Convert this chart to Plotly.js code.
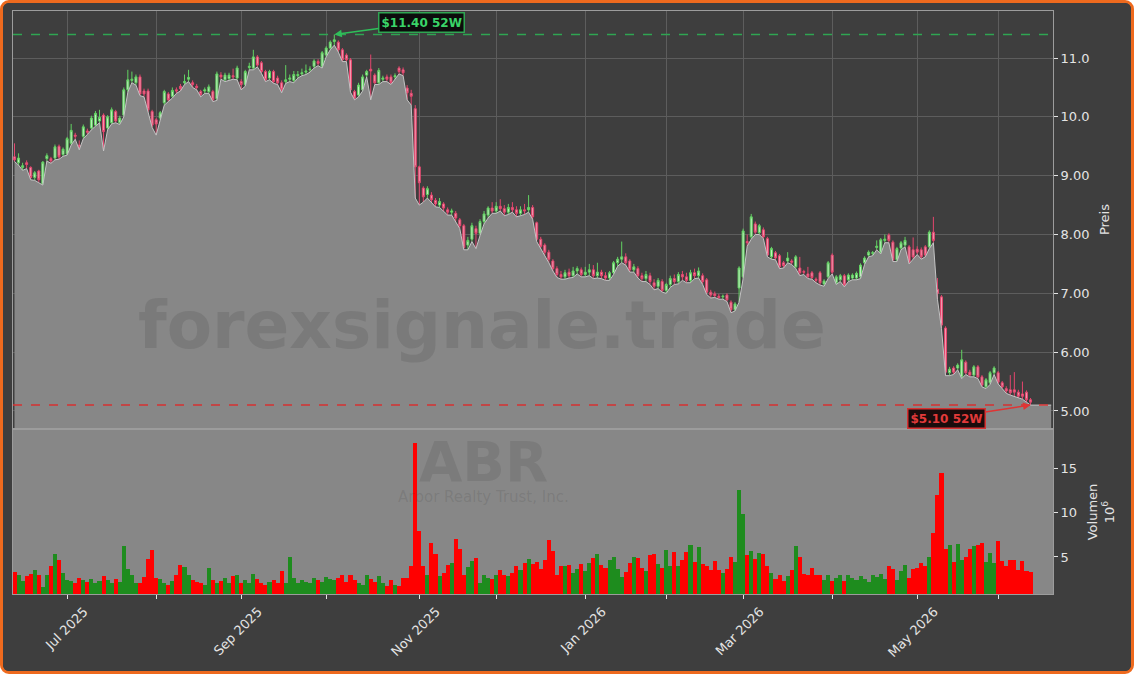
<!DOCTYPE html>
<html><head><meta charset="utf-8">
<script src="https://cdn.plot.ly/plotly-3.0.1.min.js"></script>
<style>
html,body{margin:0;padding:0;background:#ffffff;}
#frame{position:absolute;left:0;top:0;width:1134px;height:674px;box-sizing:border-box;border:3px solid #ee6a1e;border-radius:9px;background:#3e3e3e;overflow:hidden;}
#chart{width:1128px;height:668px;}
</style></head>
<body><div id="frame"><div id="chart"></div></div>
<script>
// ---------- calendar ----------
const startDate = '2025-06-11';
const endDate = '2026-06-11';
const holidays = ['2025-06-19','2025-07-04','2025-09-01','2025-11-27','2025-12-25','2026-01-01','2026-01-19','2026-02-16','2026-04-03','2026-05-25'];
const monthNames = ['Jan','Feb','Mar','Apr','May','Jun','Jul','Aug','Sep','Oct','Nov','Dec'];
const labelMonths = [0,2,4,6,8,10];

// ---------- price data (OHLC) ----------
const open = [9.32,9.22,9.14,9.22,9.14,8.97,9.08,8.86,9.29,9.29,9.30,9.50,9.36,9.37,9.55,9.69,9.52,9.67,9.76,9.81,
9.86,9.93,10.03,9.81,9.90,10.09,9.90,10.03,10.46,10.62,10.58,10.68,10.44,10.44,10.09,9.95,9.98,10.24,10.39,10.35,
10.46,10.52,10.58,10.64,10.58,10.52,10.43,10.44,10.43,10.43,10.31,10.71,10.63,10.65,10.70,10.66,10.60,10.55,10.84,10.83,
11.02,10.92,10.77,10.66,10.77,10.66,10.58,10.60,10.64,10.62,10.70,10.73,10.76,10.80,10.86,10.94,10.86,11.05,11.17,11.28,
11.27,11.14,11.05,10.97,10.43,10.37,10.46,10.71,10.81,10.71,10.58,10.64,10.68,10.68,10.68,10.83,10.80,10.49,10.40,10.14,
9.15,8.79,8.68,8.67,8.58,8.50,8.52,8.42,8.38,8.36,8.25,8.15,7.82,7.92,8.10,8.02,8.22,8.33,8.45,8.40,
8.48,8.44,8.38,8.46,8.42,8.36,8.42,8.42,8.46,8.20,7.92,7.82,7.70,7.55,7.42,7.32,7.28,7.36,7.30,7.38,
7.40,7.32,7.36,7.40,7.30,7.36,7.30,7.26,7.35,7.52,7.58,7.62,7.55,7.40,7.42,7.30,7.25,7.30,7.18,7.12,
7.20,7.05,7.15,7.25,7.20,7.32,7.28,7.22,7.35,7.30,7.30,7.23,7.02,6.99,6.95,6.94,6.97,6.85,6.72,7.09,
7.28,7.88,7.96,8.18,8.03,8.08,7.93,7.62,7.69,7.64,7.52,7.55,7.55,7.45,7.43,7.37,7.33,7.35,7.24,7.35,
7.16,7.28,7.65,7.18,7.23,7.30,7.23,7.26,7.26,7.28,7.52,7.65,7.68,7.78,7.70,7.90,7.99,7.87,7.57,7.77,
7.82,7.79,7.74,7.75,7.74,7.79,7.79,8.04,7.07,6.94,6.41,5.65,5.73,5.73,5.58,5.83,5.66,5.61,5.75,5.58,
5.41,5.48,5.65,5.65,5.48,5.38,5.36,5.36,5.32,5.29,5.32,5.19];
const high = [9.55,9.38,9.22,9.26,9.16,9.08,9.10,9.25,9.38,9.32,9.53,9.53,9.48,9.66,9.88,9.73,9.60,9.87,9.80,10.02,
10.10,10.12,10.06,10.03,10.16,10.12,10.02,10.50,10.80,10.77,10.72,10.72,10.48,10.48,10.12,9.98,10.10,10.46,10.42,10.50,
10.50,10.56,10.72,10.80,10.62,10.56,10.46,10.50,10.55,10.46,10.77,10.76,10.75,10.75,10.82,10.87,10.64,10.80,10.92,11.14,
11.05,10.95,10.80,10.80,10.80,10.70,10.62,10.88,10.72,10.78,10.78,10.82,10.89,10.86,10.98,10.98,11.12,11.20,11.30,11.40,
11.30,11.17,11.08,11.00,10.46,10.58,10.72,10.80,11.06,10.74,10.83,10.70,10.72,10.72,10.74,10.86,10.84,10.54,10.46,10.20,
9.17,8.82,8.82,8.72,8.62,8.62,8.55,8.46,8.44,8.40,8.28,8.18,7.96,8.20,8.15,8.26,8.40,8.48,8.55,8.55,
8.60,8.50,8.52,8.55,8.48,8.48,8.52,8.67,8.50,8.22,7.96,7.85,7.74,7.58,7.46,7.38,7.40,7.42,7.45,7.46,
7.44,7.45,7.50,7.48,7.52,7.40,7.36,7.38,7.55,7.62,7.88,7.68,7.58,7.50,7.46,7.35,7.38,7.35,7.24,7.26,
7.24,7.18,7.30,7.32,7.36,7.38,7.35,7.40,7.42,7.44,7.34,7.26,7.06,7.03,6.99,6.98,7.00,6.88,6.85,7.46,
8.10,8.00,8.35,8.22,8.18,8.12,7.96,7.79,7.72,7.67,7.55,7.70,7.58,7.65,7.62,7.40,7.45,7.38,7.27,7.38,
7.24,7.55,7.68,7.31,7.33,7.33,7.34,7.34,7.37,7.51,7.63,7.73,7.72,7.90,7.94,8.00,8.02,7.90,7.79,7.89,
7.96,7.82,7.95,7.80,7.78,7.82,8.07,8.30,7.26,6.97,6.44,5.75,5.76,5.81,6.04,5.86,5.70,5.78,5.78,5.61,
5.56,5.68,5.76,5.68,5.51,5.42,5.61,5.66,5.36,5.50,5.35,5.22];
const low = [9.24,9.18,9.09,9.12,8.93,8.92,8.88,8.84,9.25,9.21,9.27,9.28,9.33,9.35,9.52,9.62,9.44,9.63,9.70,9.78,
9.84,9.90,9.42,9.78,9.88,9.90,9.87,10.00,10.42,10.58,10.54,10.36,10.34,10.08,9.82,9.69,9.95,10.20,10.26,10.32,
10.40,10.44,10.55,10.60,10.50,10.46,10.34,10.40,10.40,10.26,10.28,10.64,10.60,10.62,10.64,10.63,10.46,10.52,10.80,10.80,
10.85,10.74,10.60,10.63,10.57,10.55,10.41,10.57,10.60,10.58,10.66,10.70,10.72,10.76,10.83,10.87,10.83,11.02,11.14,11.22,
11.10,10.94,10.94,10.42,10.29,10.34,10.44,10.68,10.29,10.55,10.55,10.60,10.60,10.55,10.64,10.73,10.70,10.29,10.20,8.62,
8.50,8.55,8.62,8.55,8.47,8.46,8.40,8.33,8.33,8.22,8.10,7.74,7.74,7.88,7.76,7.98,8.18,8.28,8.36,8.36,
8.40,8.32,8.34,8.38,8.30,8.32,8.34,8.38,8.26,7.88,7.76,7.65,7.52,7.38,7.27,7.24,7.24,7.26,7.27,7.33,
7.28,7.28,7.30,7.25,7.26,7.25,7.22,7.22,7.32,7.46,7.52,7.48,7.36,7.36,7.26,7.20,7.20,7.15,7.06,7.08,
7.02,7.00,7.10,7.15,7.16,7.22,7.18,7.18,7.25,7.26,7.15,6.98,6.92,6.93,6.90,6.90,6.86,6.67,6.70,6.85,
7.25,7.80,7.92,8.00,8.00,7.93,7.62,7.58,7.57,7.42,7.43,7.52,7.49,7.42,7.30,7.32,7.25,7.24,7.18,7.14,
7.12,7.25,7.33,7.15,7.20,7.11,7.20,7.23,7.23,7.25,7.49,7.62,7.64,7.74,7.67,7.86,7.86,7.54,7.54,7.74,
7.79,7.50,7.58,7.66,7.58,7.62,7.76,7.86,6.90,6.40,5.60,5.60,5.62,5.70,5.55,5.62,5.58,5.58,5.55,5.41,
5.38,5.45,5.62,5.46,5.38,5.30,5.27,5.25,5.22,5.20,5.15,5.10];
const close = [9.27,9.30,9.17,9.19,8.97,9.05,8.93,9.23,9.34,9.25,9.49,9.32,9.45,9.63,9.77,9.67,9.48,9.83,9.74,9.98,
10.06,9.99,9.75,10.00,10.12,9.93,9.98,10.46,10.63,10.64,10.68,10.39,10.39,10.12,9.86,9.88,10.07,10.43,10.29,10.45,
10.44,10.48,10.60,10.67,10.55,10.50,10.38,10.46,10.51,10.29,10.73,10.68,10.71,10.71,10.68,10.83,10.55,10.77,10.86,11.02,
10.88,10.77,10.63,10.77,10.60,10.58,10.46,10.63,10.66,10.72,10.72,10.75,10.78,10.81,10.95,10.91,11.09,11.17,11.27,11.31,
11.14,10.97,10.97,10.46,10.32,10.54,10.68,10.77,10.78,10.58,10.79,10.66,10.64,10.58,10.70,10.77,10.75,10.41,10.35,9.15,
8.88,8.64,8.78,8.59,8.52,8.56,8.45,8.38,8.40,8.28,8.15,7.78,7.90,8.15,8.02,8.22,8.35,8.45,8.40,8.48,
8.44,8.38,8.46,8.42,8.36,8.42,8.40,8.46,8.30,7.92,7.80,7.70,7.58,7.42,7.32,7.28,7.35,7.30,7.38,7.42,
7.32,7.36,7.40,7.30,7.36,7.30,7.26,7.35,7.52,7.58,7.62,7.52,7.40,7.45,7.30,7.25,7.32,7.20,7.12,7.22,
7.05,7.15,7.25,7.20,7.32,7.28,7.22,7.35,7.30,7.38,7.20,7.02,6.97,6.96,6.93,6.95,6.89,6.72,6.82,7.43,
8.06,7.86,8.30,8.04,8.15,7.96,7.65,7.76,7.60,7.45,7.47,7.60,7.53,7.62,7.35,7.36,7.28,7.27,7.22,7.18,
7.21,7.52,7.36,7.28,7.30,7.14,7.31,7.31,7.34,7.48,7.60,7.70,7.69,7.80,7.91,7.92,7.90,7.57,7.76,7.86,
7.90,7.53,7.62,7.70,7.62,7.65,8.04,7.90,7.00,6.46,5.66,5.71,5.66,5.78,5.87,5.65,5.61,5.75,5.58,5.44,
5.53,5.65,5.73,5.49,5.41,5.34,5.31,5.32,5.25,5.25,5.19,5.15];
// volume in millions
const volume = [3.3,2.9,2.3,2.8,3.1,3.5,2.9,1.6,3.0,4.0,5.3,4.7,3.2,2.4,2.3,2.0,2.6,2.4,2.2,2.5,
2.1,2.3,2.8,2.4,2.0,2.5,2.2,6.3,3.6,3.0,2.1,2.0,2.7,4.8,5.8,2.6,2.5,2.0,1.8,2.3,
3.0,4.1,3.9,2.9,2.4,2.2,2.0,1.8,3.8,2.4,2.1,2.3,2.6,2.0,2.8,3.0,2.0,2.4,2.1,3.1,
2.5,2.0,1.8,2.2,2.4,2.0,3.4,2.1,5.0,2.6,2.1,2.4,2.2,2.0,2.6,2.4,2.2,2.7,2.5,2.4,
2.6,3.0,2.2,2.9,2.4,2.0,1.8,3.0,2.5,2.2,2.8,2.0,1.7,2.4,1.8,1.7,2.6,2.6,4.0,17.9,
7.9,4.0,3.0,6.6,5.3,2.8,3.2,4.1,4.3,7.0,5.9,3.0,3.9,4.5,4.9,2.1,3.0,2.6,2.5,3.0,
3.5,3.0,2.8,3.2,4.0,3.5,4.3,4.8,4.2,4.4,3.6,4.6,6.9,5.7,3.0,4.0,4.0,4.1,3.2,3.6,
4.2,3.4,4.3,4.9,5.3,4.1,3.8,4.6,5.0,3.6,2.7,3.3,4.3,5.0,4.9,3.7,3.4,5.2,5.3,4.2,
3.8,5.8,4.0,5.6,4.0,4.6,5.6,6.4,4.4,6.1,4.2,4.0,3.5,4.5,3.5,3.2,3.6,5.0,4.4,12.6,
9.9,5.2,5.7,4.8,5.4,5.3,4.0,3.2,2.5,2.9,2.3,2.8,3.5,6.3,5.0,3.1,2.9,3.7,2.9,3.0,
2.4,3.0,2.3,2.6,2.9,2.3,2.9,2.6,2.4,2.8,2.5,2.2,2.9,2.7,3.1,2.5,4.0,3.6,2.4,3.4,
4.1,2.6,3.6,3.8,4.3,4.0,5.0,7.7,12.0,14.5,5.9,6.4,4.4,6.5,4.6,5.0,5.9,6.2,6.4,6.6,
4.4,5.4,4.3,6.8,4.5,4.0,4.6,4.7,3.5,4.5,3.4,3.3];

// ---------- axis ticks ----------
const priceTicks = [5,6,7,8,9,10,11];
const priceTickText = ['5.00','6.00','7.00','8.00','9.00','10.0','11.0'];
const volTicks = [5,10,15];

// ---------- build trading calendar ----------
function iso(d){return d.toISOString().slice(0,10);}
const dates = [];
for (let d = new Date(startDate+'T00:00:00Z'); iso(d) <= endDate; d.setUTCDate(d.getUTCDate()+1)) {
  const wd = d.getUTCDay();
  if (wd === 0 || wd === 6) continue;
  if (holidays.includes(iso(d))) continue;
  dates.push(iso(d));
}
const n = close.length;
const idx = close.map((_, i) => i);
const tickvals = [], ticktext = [];
for (let i = 1; i < dates.length && i < n; i++) {
  if (dates[i].slice(5,7) !== dates[i-1].slice(5,7)) {
    const m = parseInt(dates[i].slice(5,7),10) - 1;
    tickvals.push(i);
    ticktext.push(labelMonths.includes(m) ? monthNames[m] + ' ' + dates[i].slice(0,4) : '');
  }
}
const xRange = [-0.37, n - 1 + 5.55];
const fillExt = n - 1 + 5.1;

// 52-week extremes
let hiI = 0, loI = 0;
for (let i = 0; i < n; i++) { if (high[i] > high[hiI]) hiI = i; if (low[i] < low[loI]) loI = i; }
const hiV = high[hiI], loV = low[loI];

const volColors = idx.map(i => close[i] >= open[i] ? '#1e8c1e' : '#ff0000');

const traces = [
  {type:'scatter', mode:'lines', x: idx.concat([fillExt]), y: low.concat([low[n-1]]),
   fill:'tozeroy', fillcolor:'#878787', line:{color:'#c4c4c4', width:1}, hoverinfo:'skip', xaxis:'x', yaxis:'y'},
  {type:'candlestick', x: idx, open: open, high: high, low: low, close: close, xaxis:'x', yaxis:'y',
   increasing:{line:{color:'#62d262', width:1}, fillcolor:'#c6efc6'},
   decreasing:{line:{color:'#e4466e', width:1}, fillcolor:'#f49ab0'},
   whiskerwidth:0, hoverinfo:'skip'},
  {type:'bar', x: idx, y: volume, marker:{color: volColors, line:{width:0}}, xaxis:'x2', yaxis:'y2', hoverinfo:'skip'}
];

const axisFont = {family:'DejaVu Sans, sans-serif', size:13, color:'#e4e4e4'};
const layout = {
  width:1128, height:668,
  paper_bgcolor:'#3e3e3e', plot_bgcolor:'#3e3e3e',
  margin:{l:10, r:78, t:8, b:77},
  showlegend:false, bargap:0,
  font: axisFont,
  xaxis:{domain:[0,1], range:xRange, anchor:'y', tickvals:tickvals, showticklabels:false, ticks:'',
         showgrid:true, gridcolor:'#5d5d5d', gridwidth:1, zeroline:false, showline:true, mirror:true,
         linecolor:'#9c9c9c', linewidth:1, rangeslider:{visible:false}},
  yaxis:{domain:[0.2847,1], range:[4.71,11.8], side:'right', anchor:'x', tickvals:priceTicks, ticktext:priceTickText,
         ticks:'outside', ticklen:4, tickcolor:'#e4e4e4', showgrid:true, gridcolor:'#5d5d5d', zeroline:false,
         showline:true, mirror:true, linecolor:'#9c9c9c', title:{text:'Preis', font:axisFont, standoff:11}},
  xaxis2:{domain:[0,1], range:xRange, anchor:'y2', tickvals:tickvals, ticktext:ticktext, tickangle:-45,
          ticklabelshift:17, ticks:'outside', ticklen:4, tickcolor:'#e4e4e4', showgrid:false, zeroline:false,
          showline:true, mirror:true, linecolor:'#9c9c9c', tickfont:axisFont},
  yaxis2:{domain:[0,0.2813], range:[0.8,19.4], side:'right', anchor:'x2', tickvals:volTicks,
          ticks:'outside', ticklen:4, tickcolor:'#e4e4e4', showgrid:false, zeroline:false, showline:true, mirror:true,
          linecolor:'#9c9c9c', title:{text:'Volumen<br>10<sup>6</sup>', font:axisFont, standoff:11}},
  shapes:[
    {type:'rect', xref:'x2 domain', yref:'y2 domain', x0:0, x1:1, y0:0, y1:1, fillcolor:'#878787', line:{width:0}, layer:'below'},
    {type:'line', xref:'x domain', yref:'y', x0:0, x1:1, y0:hiV, y1:hiV, line:{color:'#2fa552', width:1.5, dash:'dash'}},
    {type:'line', xref:'x domain', yref:'y', x0:0, x1:1, y0:loV, y1:loV, line:{color:'#d63232', width:1.5, dash:'dash'}}
  ],
  annotations:[
    {xref:'paper', yref:'paper', x:0.451, y:0.4614, xanchor:'center', yanchor:'middle', text:'<b>forexsignale.trade</b>', showarrow:false,
     font:{family:'DejaVu Sans, sans-serif', size:66, color:'rgba(40,40,40,0.13)'}},
    {xref:'paper', yref:'paper', x:0.452, y:0.228, xanchor:'center', yanchor:'middle', text:'<b>ABR</b>', showarrow:false,
     font:{family:'DejaVu Sans, sans-serif', size:56, color:'rgba(50,50,50,0.13)'}},
    {xref:'paper', yref:'paper', x:0.452, y:0.166, xanchor:'center', yanchor:'middle', text:'Arbor Realty Trust, Inc.', showarrow:false,
     font:{family:'DejaVu Sans, sans-serif', size:15, color:'rgba(50,50,50,0.15)'}},
    {xref:'x', yref:'y', x:hiI, y:hiV, ax:87, ay:-12, text:'<b>$' + hiV.toFixed(2) + ' 52W</b>', showarrow:true,
     arrowhead:2, arrowsize:1, arrowwidth:1.5, arrowcolor:'#2fbf5a', bgcolor:'#0c0c0c', bordercolor:'#2fa552',
     borderwidth:1.5, borderpad:2, font:{family:'DejaVu Sans, sans-serif', size:12, color:'#3ad468'}},
    {xref:'x', yref:'y', x:loI, y:loV, ax:-84, ay:13, text:'<b>$' + loV.toFixed(2) + ' 52W</b>', showarrow:true,
     arrowhead:2, arrowsize:1, arrowwidth:1.5, arrowcolor:'#e03434', bgcolor:'#1a0c0c', bordercolor:'#d63232',
     borderwidth:1.5, borderpad:2, font:{family:'DejaVu Sans, sans-serif', size:12, color:'#e23a3a'}}
  ]
};
Plotly.newPlot('chart', traces, layout, {displayModeBar:false, staticPlot:true});
</script></body></html>
